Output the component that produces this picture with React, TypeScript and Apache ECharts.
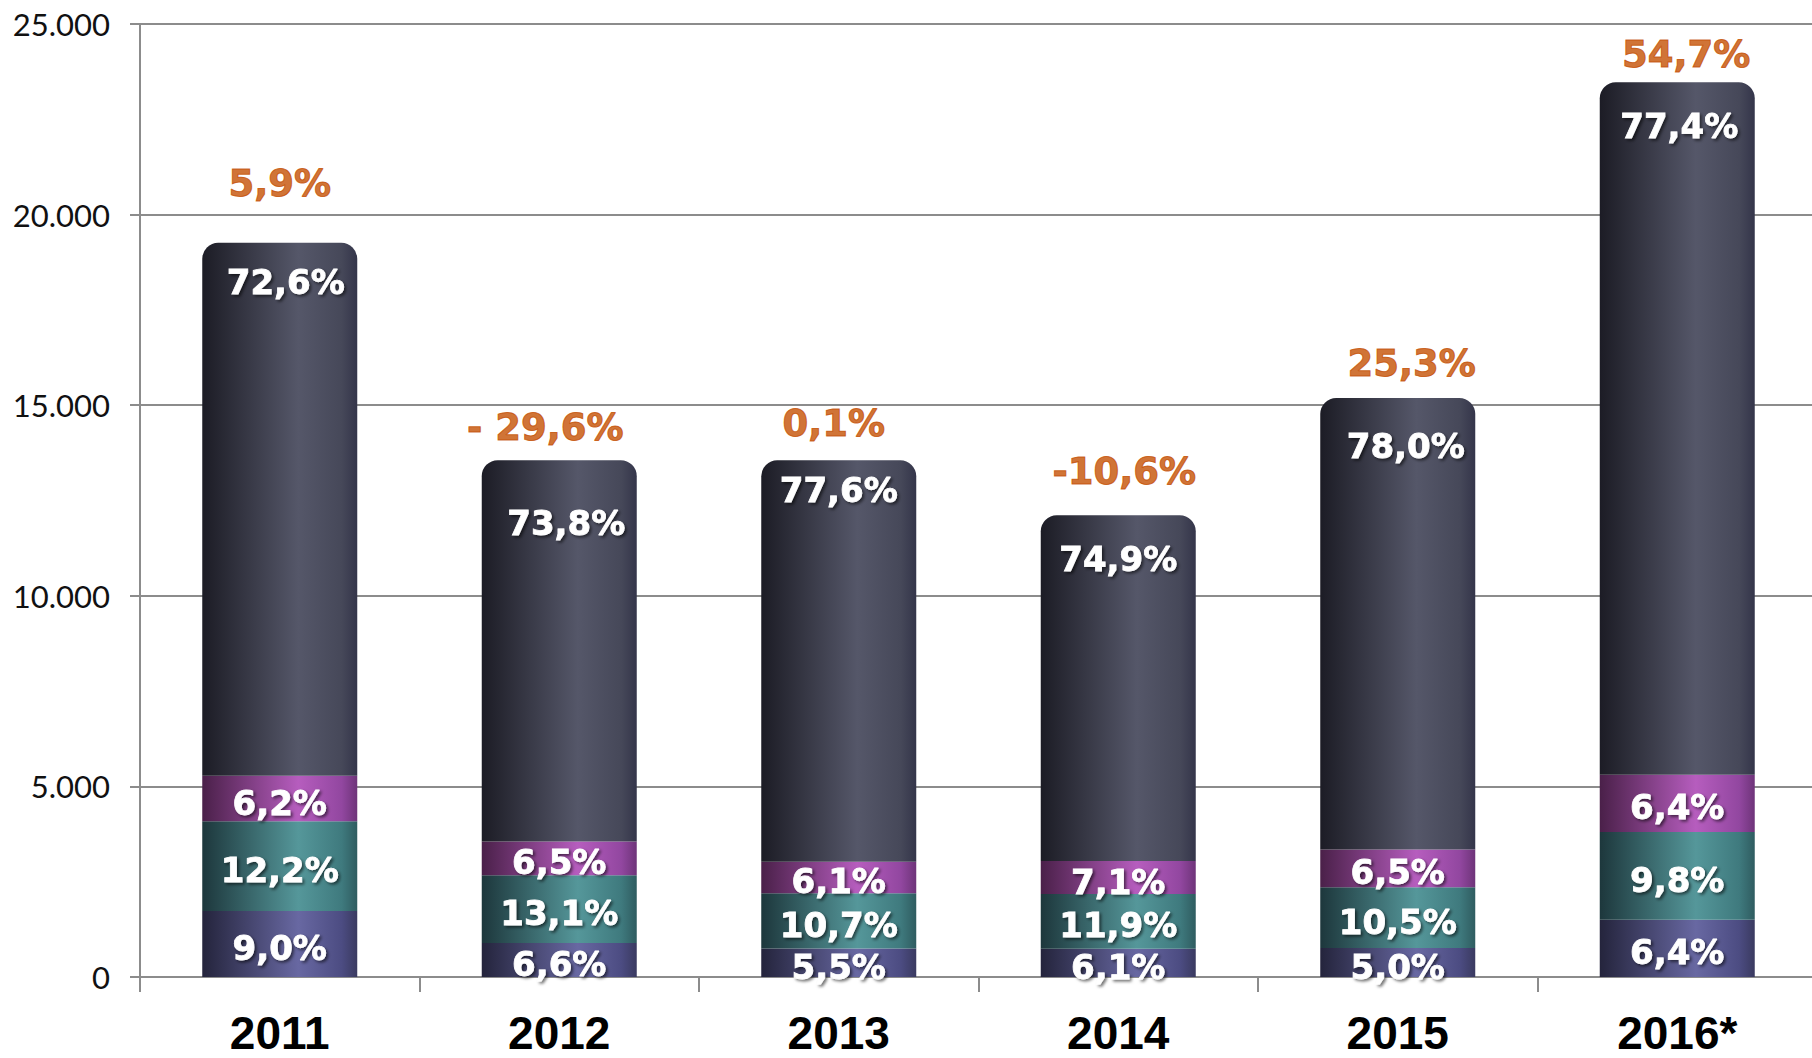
import React, { useEffect, useRef } from "react";
import * as echarts from "echarts";

const YEARS = ["2011", "2012", "2013", "2014", "2015", "2016*"];
// shares (%) per segment, bottom to top
const SHARE_A = [9.0, 6.6, 5.5, 6.1, 5.0, 6.4];
const SHARE_B = [12.2, 13.1, 10.7, 11.9, 10.5, 9.8];
const SHARE_C = [6.2, 6.5, 6.1, 7.1, 6.5, 6.4];
const SHARE_D = [72.6, 73.8, 77.6, 74.9, 78.0, 77.4];
// segment values
const VAL_A = [1733, 895, 746, 739, 760, 1502];
const VAL_B = [2350, 1776, 1452, 1441, 1595, 2300];
const VAL_C = [1194, 881, 828, 860, 987, 1502];
const VAL_D = [13983, 10007, 10530, 9070, 11848, 18166];
const GROWTH = ["5,9%", "- 29,6%", "0,1%", "-10,6%", "25,3%", "54,7%"];
const Y_TICKS = [0, 5000, 10000, 15000, 20000, 25000];

// label placement (style)
const DARK_LABEL_DIST = [22, 46, 13, 27, 31, 27];
const DARK_LABEL_DX = [6, 7, 0, 0, 8, 2];
const GROWTH_LABEL_DIST = [40, 14, 18, 25, 15, 9];
const GROWTH_LABEL_DX = [0, -14, -5, 6, 14, 9];

const fmtPct = (v: number) => v.toFixed(1).replace(".", ",") + "%";
const fmtThousands = (v: number) =>
  String(v).replace(/\B(?=(\d{3})+(?!\d))/g, ".");

const grad = (c0: string, c1: string, c2: string, c3: string) => ({
  type: "linear",
  x: 0,
  y: 0,
  x2: 1,
  y2: 0,
  colorStops: [
    { offset: 0, color: c0 },
    { offset: 0.62, color: c1 },
    { offset: 0.9, color: c2 },
    { offset: 1, color: c3 },
  ],
});

const whiteLabel = {
  show: true,
  color: "#ffffff",
  fontFamily: "'DejaVu Sans', Verdana, sans-serif",
  fontWeight: "bold",
  fontSize: 34,
  textBorderColor: "#ffffff",
  textBorderWidth: 0.8,
  textShadowColor: "rgba(0,0,0,0.55)",
  textShadowBlur: 3,
  textShadowOffsetX: 2,
  textShadowOffsetY: 2,
};

export default function App() {
  const ref = useRef<HTMLDivElement>(null);
  useEffect(() => {
    const chart = echarts.init(ref.current!, null, { renderer: "svg" });
    const totals = YEARS.map((_, i) => VAL_A[i] + VAL_B[i] + VAL_C[i] + VAL_D[i]);
    const BAR_W = 155;
    const seg = (name: string, vals: number[], shares: number[], color: any) => ({
      name,
      type: "bar",
      stack: "total",
      barWidth: BAR_W,
      itemStyle: { color },
      label: {
        ...whiteLabel,
        position: "inside",
        offset: [0, 4],
        formatter: (p: any) => fmtPct(shares[p.dataIndex]),
      },
      data: vals,
    });
    const option: any = {
      animation: false,
      grid: {
        left: 140,
        right: -5,
        top: 24,
        bottom: 81,
        containLabel: false,
        outerBoundsMode: "none",
      },
      xAxis: {
        type: "category",
        data: YEARS,
        boundaryGap: true,
        axisLine: { show: true, lineStyle: { color: "#8c8c8c", width: 2 } },
        axisTick: { show: true, length: 15, lineStyle: { color: "#8c8c8c", width: 2 } },
        axisLabel: {
          color: "#000000",
          fontFamily: "'Liberation Sans', Arial, sans-serif",
          fontWeight: "bold",
          fontSize: 46,
          lineHeight: 36,
          margin: 38,
        },
      },
      yAxis: {
        type: "value",
        min: Y_TICKS[0],
        max: Y_TICKS[Y_TICKS.length - 1],
        interval: Y_TICKS[1] - Y_TICKS[0],
        axisLine: { show: true, lineStyle: { color: "#8c8c8c", width: 2 } },
        axisTick: { show: true, length: 10, lineStyle: { color: "#8c8c8c", width: 2 } },
        splitLine: { show: true, lineStyle: { color: "#8c8c8c", width: 2 } },
        axisLabel: {
          color: "#111111",
          fontFamily: "Lato, 'Open Sans', sans-serif",
          fontSize: 31,
          margin: 30,
          formatter: (v: number) => fmtThousands(v),
        },
      },
      series: [
        seg("A", VAL_A, SHARE_A, grad("#24243c", "#6868a2", "#4c4c82", "#3a3a60")),
        seg("B", VAL_B, SHARE_B, grad("#1d373c", "#55979a", "#3f7a7e", "#2f5c60")),
        seg("C", VAL_C, SHARE_C, grad("#4a2049", "#b65dbe", "#9247a0", "#6e3479")),
        {
          name: "D",
          type: "bar",
          stack: "total",
          barWidth: BAR_W,
          itemStyle: {
            color: grad("#1c1c25", "#555769", "#464859", "#34354a"),
            borderRadius: [16, 16, 0, 0],
          },
          label: {
            ...whiteLabel,
            position: "insideTop",
            formatter: (p: any) => fmtPct(SHARE_D[p.dataIndex]),
          },
          data: VAL_D.map((v, i) => ({
            value: v,
            label: { distance: DARK_LABEL_DIST[i], offset: [DARK_LABEL_DX[i], 0] },
          })),
        },
        {
          name: "growth",
          type: "scatter",
          symbolSize: 1,
          itemStyle: { color: "rgba(0,0,0,0)" },
          label: {
            show: true,
            position: "top",
            color: "#c44e00",
            textBorderColor: "#c44e00",
            textBorderWidth: 1,
            fontFamily: "'DejaVu Sans', Verdana, sans-serif",
            fontWeight: "bold",
            fontSize: 37,
            formatter: (p: any) => GROWTH[p.dataIndex],
          },
          data: totals.map((t, i) => ({
            value: t,
            label: { distance: GROWTH_LABEL_DIST[i], offset: [GROWTH_LABEL_DX[i], 0] },
          })),
          z: 5,
        },
      ],
    };
    chart.setOption(option);
    return () => chart.dispose();
  }, []);
  return (
    <div
      ref={ref}
      style={{ position: "fixed", left: 0, top: 0, width: 1812, height: 1058, background: "#ffffff" }}
    />
  );
}
